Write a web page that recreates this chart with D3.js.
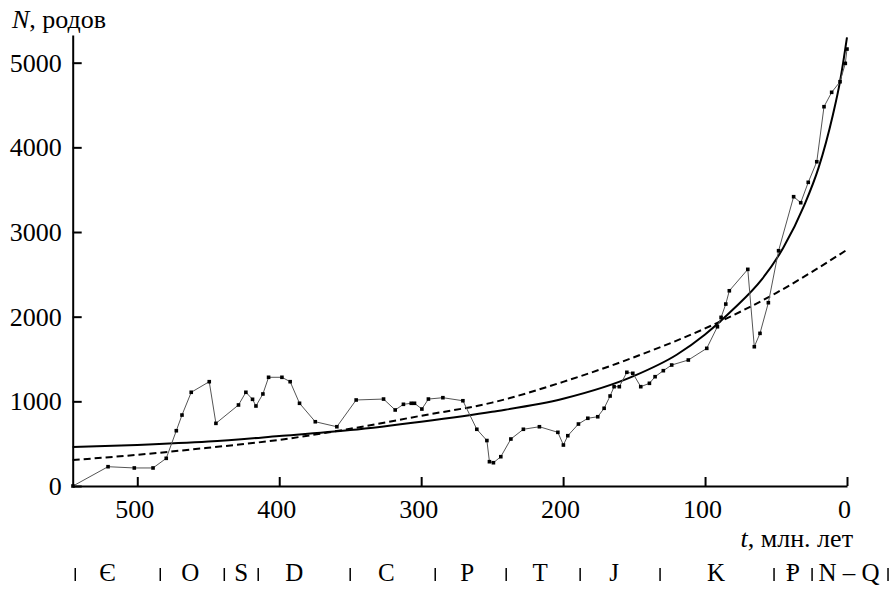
<!DOCTYPE html>
<html>
<head>
<meta charset="utf-8">
<script src="https://cdn.jsdelivr.net/npm/d3@7"></script>
<style>
  body { margin: 0; background: #fff; }
  text { font-family: "Liberation Serif", "DejaVu Serif", serif; fill: #000; }
</style>
</head>
<body>
<script>
var width = 891,
  height = 589;

// number of genera through time (t, Ma ago)
var ages = [545.3, 520.6, 502.1, 488.9, 479.6, 472.5, 468.5, 462, 449.3, 444.6,
  428.7, 423.5, 418.8, 416.4, 411.5, 407.5, 398.1, 392.3, 385.7, 374.6,
  359.4, 345.8, 326.5, 318.3, 312.5, 307, 304.7, 299.5, 294.9, 284.7,
  270.6, 260.8, 253.7, 251.9, 249.1, 243.9, 236.8, 228, 216.7, 203.7,
  199.8, 196.7, 189.2, 182.6, 175.6, 171.1, 166.9, 164.1, 160.4, 155.1,
  150.9, 145.3, 139.2, 135.2, 129.4, 123.5, 111.8, 98.8, 91.3, 88.7,
  85.4, 82.9, 69.9, 65.3, 61.3, 55.4, 48.2, 37.6, 32.6, 27.3,
  21.3, 16.2, 10.8, 4.9, 1.2, 0];
var genera = [0, 228, 213, 213, 327, 653, 838, 1107, 1232, 740,
  957, 1107, 1024, 945, 1087, 1284, 1284, 1232, 977, 759,
  700, 1016, 1027, 898, 965, 977, 977, 909, 1027, 1043,
  1007, 670, 537, 287, 275, 346, 555, 670, 700, 634,
  484, 594, 732, 800, 818, 918, 1063, 1173, 1173, 1343,
  1331, 1173, 1213, 1291, 1362, 1429, 1488, 1626, 1881, 1992,
  2149, 2306, 2559, 1645, 1803, 2165, 2779, 3417, 3346, 3587,
  3830, 4480, 4650, 4775, 4992, 5161];

// hyperbolic fit (solid)
var hypAges = [545.5, 500, 450, 400, 350, 300, 250, 200, 150, 120, 100, 80, 60, 45, 30, 20, 10, 5, 0];
var hypN = [460, 485, 525, 590, 661, 760, 877, 1030, 1300, 1550, 1790, 2090, 2440, 2810, 3320, 3760, 4380, 4770, 5300];

// exponential fit (dashed)
var expAges = [545.5, 500, 450, 400, 350, 300, 250, 200, 150, 100, 50, 0];
var expN = [307, 368, 452, 545, 676, 830, 985, 1230, 1521, 1861, 2279, 2790];

var yTicks = [0, 1000, 2000, 3000, 4000, 5000];
var xTicks = [500, 400, 300, 200, 100, 0];

// geological periods row (positions read as t, Ma)
var periodNames = ["Є", "O", "S", "D", "C", "P", "T", "J", "K", "Ᵽ", "N – Q"];
var periodCenters = [521, 462.7, 426.8, 389.4, 324.6, 267.6, 216.2, 164.1, 92.3, 38, -1.4];
var periodBounds = [543.7, 483.8, 438.7, 414.8, 350, 290.1, 240.1, 188, 131.7, 51.4, 24.6, -28.9];

var fontSize = 26;

var svg = d3.select("body").append("svg")
  .attr("width", width)
  .attr("height", height);

var x = d3.scaleLinear().domain([545.5, 0]).range([72.7, 847]);
var y = d3.scaleLinear().domain([0, 5327]).range([486, 35]);

// axes
var yAxis = svg.append("g")
  .attr("transform", "translate(72.7,0)")
  .call(d3.axisLeft(y).tickValues(yTicks).tickFormat(d3.format("d"))
    .tickSize(-9).tickSizeOuter(0).tickPadding(11));
var xAxis = svg.append("g")
  .attr("transform", "translate(0,486)")
  .call(d3.axisBottom(x).tickValues(xTicks).tickFormat(d3.format("d"))
    .tickSize(-9).tickSizeOuter(0).tickPadding(14));

[yAxis, xAxis].forEach(function(a) {
  a.select(".domain").attr("stroke", "#000").attr("stroke-width", 2);
  a.selectAll(".tick line").attr("stroke", "#000").attr("stroke-width", 2);
  a.selectAll(".tick text")
    .attr("font-family", "Liberation Serif")
    .attr("font-size", fontSize)
    .attr("fill", "#000");
});
xAxis.selectAll(".tick text").attr("dx", -3);

// fit curves
var fitLine = d3.line()
  .x(function(d) { return x(d[0]); })
  .y(function(d) { return y(d[1]); })
  .curve(d3.curveMonotoneX);

svg.append("path")
  .datum(expAges.map(function(a, i) { return [a, expN[i]]; }))
  .attr("d", fitLine)
  .attr("fill", "none")
  .attr("stroke", "#000")
  .attr("stroke-width", 2)
  .attr("stroke-dasharray", "7,4");

svg.append("path")
  .datum(hypAges.map(function(a, i) { return [a, hypN[i]]; }))
  .attr("d", fitLine)
  .attr("fill", "none")
  .attr("stroke", "#000")
  .attr("stroke-width", 2);

// observed data
var obs = ages.map(function(a, i) { return [a, genera[i]]; });
svg.append("path")
  .datum(obs)
  .attr("d", d3.line().x(function(d) { return x(d[0]); }).y(function(d) { return y(d[1]); }))
  .attr("fill", "none")
  .attr("stroke", "#555")
  .attr("stroke-width", 1);

svg.append("g").selectAll("rect")
  .data(obs)
  .enter()
    .append("rect")
    .attr("x", function(d) { return x(d[0]) - 1.8; })
    .attr("y", function(d) { return y(d[1]) - 1.8; })
    .attr("width", 3.6)
    .attr("height", 3.6)
    .attr("fill", "#000");

// axis titles
var yTitle = svg.append("text")
  .attr("x", 12)
  .attr("y", 28)
  .attr("font-size", fontSize);
yTitle.append("tspan").attr("font-style", "italic").text("N");
yTitle.append("tspan").text(", родов");

var xTitle = svg.append("text")
  .attr("x", 853)
  .attr("y", 547)
  .attr("text-anchor", "end")
  .attr("font-size", fontSize);
xTitle.append("tspan").attr("font-style", "italic").text("t");
xTitle.append("tspan").text(", млн. лет");

// period row
svg.append("g").selectAll("line")
  .data(periodBounds)
  .enter()
    .append("line")
    .attr("x1", function(d) { return x(d); })
    .attr("x2", function(d) { return x(d); })
    .attr("y1", 568)
    .attr("y2", 581)
    .attr("stroke", "#000")
    .attr("stroke-width", 1.5);

svg.append("g").selectAll("text")
  .data(periodNames)
  .enter()
    .append("text")
    .attr("x", function(d, i) { return x(periodCenters[i]); })
    .attr("y", 581)
    .attr("text-anchor", "middle")
    .attr("font-size", 25)
    .text(function(d) { return d; });
</script>
</body>
</html>
